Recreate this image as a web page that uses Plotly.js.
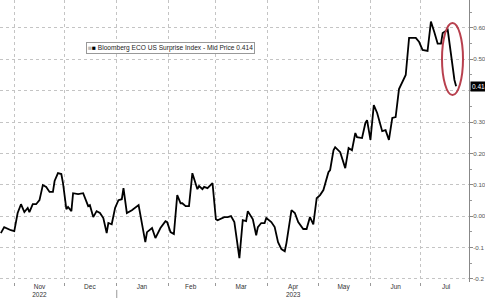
<!DOCTYPE html>
<html>
<head>
<meta charset="utf-8">
<script src="https://cdn.plot.ly/plotly-3.0.1.min.js"></script>
<style>
html,body{margin:0;padding:0;background:#fff;}
#chart{width:485px;height:298px;}
</style>
</head>
<body>
<div id="chart"></div>
<script>
const seriesName = "Bloomberg ECO US Surprise Index - Mid Price 0.414";
const lastLabel = "0.414";
const dates = [
"2022-10-24","2022-10-26","2022-10-30","2022-11-01","2022-11-03","2022-11-05","2022-11-07","2022-11-09","2022-11-10","2022-11-12",
"2022-11-14","2022-11-16","2022-11-18","2022-11-20","2022-11-22","2022-11-24","2022-11-25","2022-11-27","2022-11-29","2022-11-30",
"2022-12-02","2022-12-03","2022-12-05","2022-12-06","2022-12-09","2022-12-12","2022-12-15","2022-12-16","2022-12-18","2022-12-20",
"2022-12-22","2022-12-24","2022-12-26","2022-12-27","2022-12-29","2022-12-31","2023-01-02","2023-01-04","2023-01-05","2023-01-07",
"2023-01-10","2023-01-14","2023-01-18","2023-01-19","2023-01-22","2023-01-24","2023-01-27","2023-01-30","2023-01-31","2023-02-02",
"2023-02-04","2023-02-06","2023-02-08","2023-02-09","2023-02-11","2023-02-13","2023-02-15","2023-02-18","2023-02-19","2023-02-21",
"2023-02-22","2023-02-24","2023-02-27","2023-03-01","2023-03-02","2023-03-06","2023-03-08","2023-03-10","2023-03-12","2023-03-14",
"2023-03-15","2023-03-17","2023-03-19","2023-03-20","2023-03-22","2023-03-23","2023-03-25","2023-03-26","2023-03-28","2023-03-30",
"2023-03-31","2023-04-03","2023-04-05","2023-04-07","2023-04-09","2023-04-11","2023-04-12","2023-04-15","2023-04-17","2023-04-19",
"2023-04-22","2023-04-24","2023-04-26","2023-04-28","2023-04-30","2023-05-02","2023-05-04","2023-05-07","2023-05-08","2023-05-10",
"2023-05-11","2023-05-14","2023-05-17","2023-05-19","2023-05-21","2023-05-23","2023-05-24","2023-05-27","2023-05-29","2023-05-30",
"2023-06-01","2023-06-03","2023-06-05","2023-06-08","2023-06-10","2023-06-12","2023-06-14","2023-06-16","2023-06-18","2023-06-20",
"2023-06-22","2023-06-24","2023-06-28","2023-06-30","2023-07-02","2023-07-05","2023-07-07","2023-07-09","2023-07-11","2023-07-13",
"2023-07-14","2023-07-17","2023-07-19","2023-07-20","2023-07-21","2023-07-22"
];
const values = [
-0.054,-0.035,-0.045,-0.048,0.010,0.038,0.013,0.026,0.013,0.038,
0.038,0.051,0.099,0.093,0.077,0.077,0.112,0.137,0.134,0.105,
0.022,0.029,0.016,0.073,0.070,0.073,0.032,0.035,-0.003,0.016,
0.010,-0.006,-0.054,-0.022,-0.026,0.026,0.051,0.054,0.089,0.010,
0.019,0.035,-0.083,-0.051,-0.038,-0.070,-0.038,-0.016,-0.019,-0.051,
-0.057,0.067,0.041,0.041,0.032,0.032,0.137,0.086,0.096,0.086,
0.093,0.089,0.105,-0.010,-0.013,-0.003,-0.003,0.000,-0.019,-0.099,
-0.134,-0.013,-0.016,0.016,-0.003,-0.010,-0.061,-0.035,-0.022,-0.022,
-0.006,-0.019,-0.035,-0.083,-0.105,-0.112,-0.086,0.019,0.010,-0.019,
-0.041,-0.041,-0.003,-0.026,0.057,0.067,0.083,0.140,0.147,0.210,
0.220,0.204,0.153,0.217,0.210,0.265,0.252,0.249,0.297,0.306,
0.243,0.354,0.329,0.271,0.274,0.243,0.313,0.316,0.405,0.428,
0.450,0.568,0.568,0.555,0.530,0.527,0.620,0.587,0.550,0.550,
0.584,0.594,0.510,0.480,0.434,0.414
];
const monthTickVals = ["2022-11-16","2022-12-16","2023-01-16","2023-02-14","2023-03-16","2023-04-16","2023-05-16","2023-06-16","2023-07-16"];
const monthTickText = ["Nov<br>2022","Dec","Jan","Feb","Mar","Apr<br>2023","May","Jun","Jul"];
const yTickVals = [-0.2,-0.1,0,0.1,0.2,0.3,0.4,0.5,0.6];
const yTickText = ["-0.2","-0.1","0.00","0.10","0.20","0.30","","0.50","0.60"];
const lastValue = values[values.length-1];

const trace = {
  x: dates, y: values, type: "scatter", mode: "lines",
  line: {color: "#000", width: 1.8}, showlegend: false, hoverinfo: "skip"
};

const layout = {
  width: 485, height: 298,
  margin: {l: 0, r: 16, t: 0, b: 16},
  paper_bgcolor: "#fff", plot_bgcolor: "#fff",
  font: {family: "Liberation Sans, Arial, sans-serif", size: 7, color: "#333"},
  xaxis: {
    type: "date",
    range: ["2022-10-23 12:00", "2023-07-29 16:00"],
    tickmode: "array", tickvals: monthTickVals, ticktext: monthTickText,
    ticks: "", showgrid: false, zeroline: false, showline: false,
    ticklabelstandoff: -1,
    tickfont: {size: 6.5, color: "#333"},
    minor: {tickmode: "linear", tick0: "2022-11-01", dtick: "M1", showgrid: true, griddash: "dot",
            gridcolor: "#c4c4c4", gridwidth: 1, ticks: "outside", ticklen: 3, tickcolor: "#999"}
  },
  yaxis: {
    side: "right",
    range: [-0.21, 0.689],
    tickmode: "array", tickvals: yTickVals, ticktext: yTickText,
    showgrid: true, griddash: "dot", gridcolor: "#c4c4c4", gridwidth: 1,
    zeroline: false, showline: true, linecolor: "#888", linewidth: 1,
    ticks: "outside", ticklen: 3, tickcolor: "#888",
    ticklabelstandoff: -1,
    tickfont: {size: 6.2, color: "#555"},
    minor: {tickmode: "linear", tick0: 0.05, dtick: 0.1, ticks: "outside", ticklen: 2, tickcolor: "#999", showgrid: false}
  },
  annotations: [
    {
      xref: "paper", yref: "paper", x: 86/469, y: 1 - 42/282, xanchor: "left", yanchor: "top",
      text: "<span style='color:#bbb'>■</span><span style='color:#000'>■</span> " + seriesName,
      showarrow: false, bgcolor: "#fff", bordercolor: "#999", borderwidth: 1, borderpad: 1,
      font: {size: 6.6, color: "#222"}
    },
    {
      xref: "paper", yref: "y", x: 1, y: lastValue, xanchor: "left", yanchor: "middle", xshift: 1,
      text: lastLabel, showarrow: false, bgcolor: "#000", borderpad: 1,
      font: {size: 6.5, color: "#fff"}
    }
  ],
  shapes: [
    {type: "circle", xref: "paper", yref: "paper", x0: 442/469, x1: 463/469, y0: 1 - 95/282, y1: 1 - 23/282,
     line: {color: "#b8404e", width: 2}},
    {type: "line", xref: "x", yref: "paper", x0: "2023-01-01", x1: "2023-01-01", y0: -0.028, y1: -0.06,
     line: {color: "#999", width: 1}}
  ]
};

Plotly.newPlot("chart", [trace], layout, {staticPlot: true, displayModeBar: false});
</script>
</body>
</html>
